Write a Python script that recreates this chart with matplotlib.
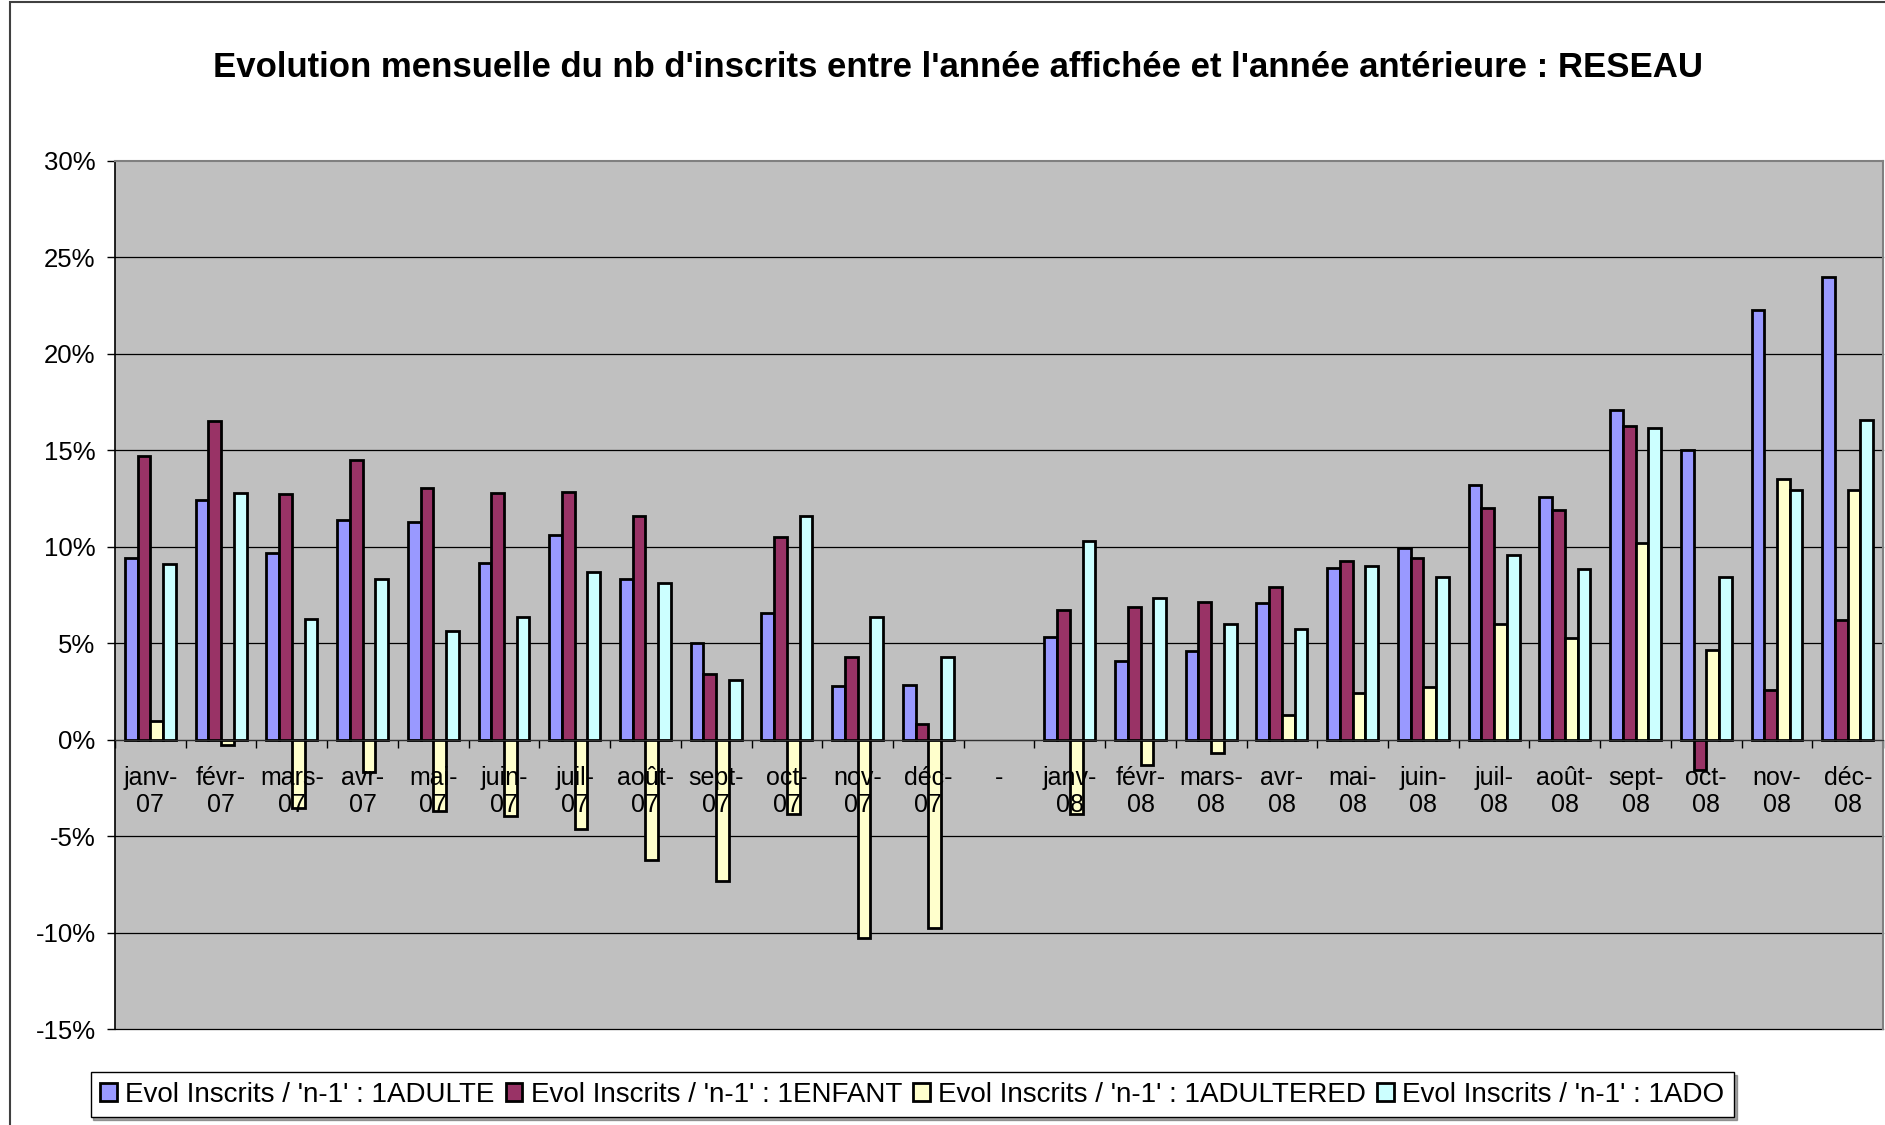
import numpy as np
import matplotlib.pyplot as plt
from matplotlib.patches import Rectangle

plt.rcParams['font.family'] = ['Liberation Sans', 'DejaVu Sans']
plt.rcParams['axes.unicode_minus'] = False

# Catégories (mois) : 2007, une catégorie vide "-", puis 2008
mois = ['janv-\n07', 'févr-\n07', 'mars-\n07', 'avr-\n07', 'mai-\n07', 'juin-\n07',
        'juil-\n07', 'août-\n07', 'sept-\n07', 'oct-\n07', 'nov-\n07', 'déc-\n07', '-',
        'janv-\n08', 'févr-\n08', 'mars-\n08', 'avr-\n08', 'mai-\n08', 'juin-\n08',
        'juil-\n08', 'août-\n08', 'sept-\n08', 'oct-\n08', 'nov-\n08', 'déc-\n08']

# Evolution en % par rapport à l'année n-1
adulte = [9.4, 12.4, 9.7, 11.4, 11.3, 9.15, 10.6, 8.35, 5.0, 6.55, 2.8, 2.85, np.nan,
          5.3, 4.1, 4.6, 7.1, 8.9, 9.95, 13.2, 12.6, 17.1, 15.0, 22.3, 24.0]
enfant = [14.7, 16.5, 12.75, 14.5, 13.05, 12.8, 12.85, 11.6, 3.4, 10.5, 4.3, 0.8, np.nan,
          6.7, 6.9, 7.15, 7.9, 9.25, 9.4, 12.0, 11.9, 16.25, -1.55, 2.55, 6.2]
adultered = [0.95, -0.3, -3.55, -1.7, -3.7, -3.95, -4.65, -6.25, -7.3, -3.85, -10.3, -9.75, np.nan,
             -3.85, -1.3, -0.7, 1.3, 2.4, 2.75, 6.0, 5.25, 10.2, 4.65, 13.5, 12.95]
ado = [9.1, 12.8, 6.25, 8.35, 5.65, 6.35, 8.7, 8.1, 3.1, 11.6, 6.35, 4.3, np.nan,
       10.3, 7.35, 6.0, 5.75, 9.0, 8.45, 9.6, 8.85, 16.15, 8.45, 12.95, 16.55]

series = [
    (adulte, '#9999FF', "Evol Inscrits / 'n-1' : 1ADULTE"),
    (enfant, '#993366', "Evol Inscrits / 'n-1' : 1ENFANT"),
    (adultered, '#FFFFCC', "Evol Inscrits / 'n-1' : 1ADULTERED"),
    (ado, '#CCFFFF', "Evol Inscrits / 'n-1' : 1ADO"),
]

fig = plt.figure(figsize=(18.85, 11.25), dpi=100)
fig.patch.set_facecolor('white')

# cadre gris autour de tout le graphique
fig.patches.append(Rectangle((0.0053, -0.01), 0.997, 1.008, transform=fig.transFigure,
                             fill=False, edgecolor='#404040', linewidth=1.5))

ax = fig.add_axes([0.061, 0.0853, 0.938, 0.7716])
ax.set_facecolor('#C0C0C0')

x = np.arange(len(mois))
w = 0.18
for i, (vals, couleur, nom) in enumerate(series):
    ax.bar(x + (i - 1.5) * w, vals, width=w, color=couleur, edgecolor='black',
           linewidth=2, label=nom, zorder=1)

# lignes de quadrillage horizontales (sous les barres)
for v in range(-15, 30, 5):
    ax.axhline(v, color='black', linewidth=0.9, zorder=0.5, clip_on=False)

ax.set_xlim(-0.5, len(mois) - 0.5)
ax.set_ylim(-15, 30)
ax.set_yticks(range(-15, 31, 5))
ax.set_yticklabels([f'{v}%' for v in range(-15, 31, 5)])
ax.tick_params(axis='y', direction='out', length=6, width=1, labelsize=18.5, pad=8)

# axe des catégories placé sur le zéro
ax.spines['bottom'].set_position(('data', 0))
ax.spines['bottom'].set_color('#303030')
ax.spines['left'].set_color('black')
ax.spines['left'].set_linewidth(1.2)
ax.spines['top'].set_color('#808080')
ax.spines['right'].set_color('#808080')
ax.spines['top'].set_linewidth(1.5)
ax.spines['right'].set_linewidth(1.5)

ax.set_xticks(x)
ax.set_xticklabels(mois, fontsize=18, linespacing=1.15)
ax.tick_params(axis='x', which='major', length=0, pad=19)
ax.set_xticks(np.arange(len(mois) + 1) - 0.5, minor=True)
ax.tick_params(axis='x', which='minor', direction='out', length=6, width=1)

fig.text(0.508, 0.94, "Evolution mensuelle du nb d'inscrits entre l'année affichée et l'année antérieure : RESEAU",
         ha='center', va='center', fontsize=25, fontweight='bold')

leg = fig.legend(loc='center', bbox_to_anchor=(0.484, 0.027), ncol=4, fontsize=20,
                 frameon=True, fancybox=False, shadow=True, edgecolor='black',
                 handlelength=0.6, handleheight=0.6, handletextpad=0.3,
                 columnspacing=0.4, borderpad=0.35, borderaxespad=0)
leg.get_frame().set_linewidth(1)

fig.savefig('out.png', dpi=100)
